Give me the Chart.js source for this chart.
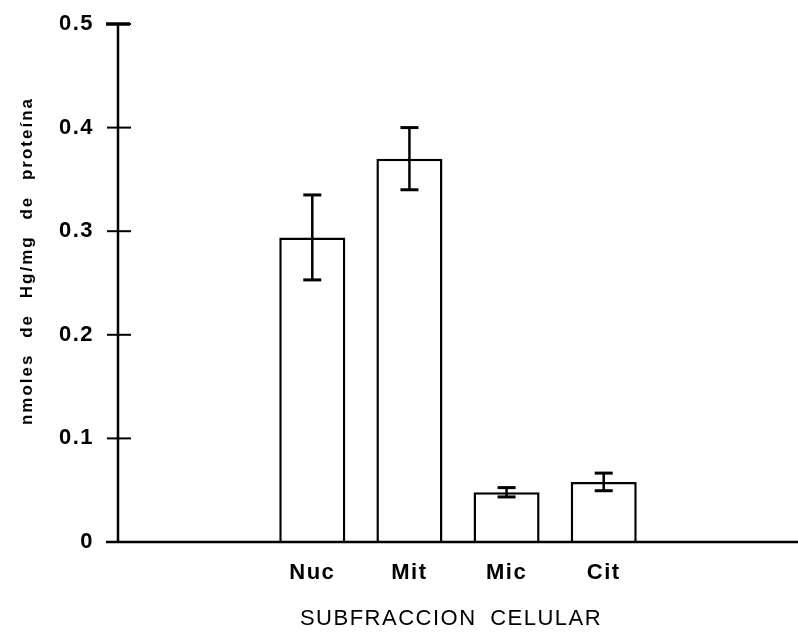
<!DOCTYPE html>
<html>
<head>
<meta charset="utf-8">
<script src="https://cdn.jsdelivr.net/npm/chart.js@4.4.0/dist/chart.umd.min.js"></script>
<style>
    html, body { margin: 0; padding: 0; background: #fff; }
    #wrap { width: 798px; height: 634px; }
</style>
</head>
<body>
<div id="wrap"><canvas id="chart"></canvas></div>
<script>
// Contenido de Hg por subfracción celular (media ± error)
const categorias = ['', '', 'Nuc', 'Mit', 'Mic', 'Cit', '', ''];
const valores = [null, null, 0.294, 0.370, 0.048, 0.058, null, null];
const errores = [null, null, 0.041, 0.030, 0.0045, 0.0085, null, null];
const ticksY = [0, 0.1, 0.2, 0.3, 0.4, 0.5];

const tituloX = 'SUBFRACCION CELULAR';
const tituloY = 'nmoles de Hg/mg de proteína';

Chart.defaults.font.family = "'Liberation Sans', Arial, Helvetica, sans-serif";
Chart.defaults.color = '#000';

function linea(ctx, x1, y1, x2, y2) {
    ctx.beginPath();
    ctx.moveTo(x1, y1);
    ctx.lineTo(x2, y2);
    ctx.stroke();
}

// Ejes con marcas cruzadas, barras de error y títulos
const ejesPlugin = {
    id: 'ejes',
    beforeDraw(chart) {
        // espaciado para las etiquetas de los ejes
        chart.ctx.letterSpacing = '1.5px';
    },
    afterDatasetsDraw(chart) {
        const { ctx, chartArea, scales: { x, y } } = chart;
        const x0 = chartArea.left;
        const y0 = y.getPixelForValue(0);
        ctx.save();
        ctx.strokeStyle = '#000';
        ctx.lineCap = 'butt';

        // eje Y y sus marcas
        ctx.lineWidth = 2.5;
        linea(ctx, x0, y.getPixelForValue(ticksY[ticksY.length - 1]) - 1, x0, y0 + 1);
        ctx.lineWidth = 2;
        ticksY.forEach(v => {
            const py = y.getPixelForValue(v);
            linea(ctx, x0 - 11, py, x0 + 13, py);
        });
        ctx.lineWidth = 3.5;
        const pTop = y.getPixelForValue(ticksY[ticksY.length - 1]);
        linea(ctx, x0 - 12, pTop, x0 + 12, pTop);

        // eje X
        ctx.lineWidth = 2.5;
        linea(ctx, x0 - 12, y0, chartArea.right, y0);

        // barras de error
        const meta = chart.getDatasetMeta(0);
        meta.data.forEach((bar, i) => {
            if (valores[i] == null) return;
            const px = bar.x;
            const yHi = y.getPixelForValue(valores[i] + errores[i]);
            const yLo = y.getPixelForValue(valores[i] - errores[i]);
            ctx.lineWidth = 2.5;
            linea(ctx, px, yHi, px, yLo);
            ctx.lineWidth = 3;
            linea(ctx, px - 9, yHi, px + 9, yHi);
            linea(ctx, px - 9, yLo, px + 9, yLo);
        });
        ctx.restore();
    },
    afterDraw(chart) {
        const { ctx } = chart;
        ctx.save();
        ctx.fillStyle = '#000';
        ctx.textAlign = 'center';
        ctx.textBaseline = 'middle';

        // título del eje X
        ctx.font = "22px 'Liberation Sans', Arial, sans-serif";
        ctx.letterSpacing = '1.5px';
        ctx.wordSpacing = '6px';
        ctx.fillText(tituloX, 451, 619);

        // título del eje Y (girado)
        ctx.translate(27, 261);
        ctx.rotate(-Math.PI / 2);
        ctx.font = "bold 17px 'Liberation Sans', Arial, sans-serif";
        ctx.letterSpacing = '2px';
        ctx.wordSpacing = '9px';
        ctx.fillText(tituloY, 0, 0);
        ctx.restore();
    }
};

new Chart(document.getElementById('chart'), {
    type: 'bar',
    data: {
        labels: categorias,
        datasets: [{
            data: valores,
            backgroundColor: '#fff',
            borderColor: '#000',
            borderWidth: 2.5,
            borderSkipped: 'bottom',
            categoryPercentage: 1,
            barPercentage: 0.68
        }]
    },
    options: {
        responsive: true,
        maintainAspectRatio: false,
        animation: false,
        layout: { padding: { top: 24, left: 0, right: 0, bottom: 0 } },
        plugins: {
            legend: { display: false },
            tooltip: { enabled: false }
        },
        scales: {
            x: {
                offset: false,
                grid: { display: false },
                border: { display: false },
                ticks: {
                    padding: 10,
                    autoSkip: false,
                    maxRotation: 0,
                    font: { size: 22, weight: 'bold' }
                },
                afterFit(scale) {
                    scale.height = 92;
                    scale.paddingLeft = 0;
                    scale.paddingRight = 0;
                }
            },
            y: {
                min: 0,
                max: 0.5,
                grid: { display: false },
                border: { display: false },
                afterBuildTicks(scale) {
                    scale.ticks = ticksY.map(v => ({ value: v }));
                },
                ticks: {
                    padding: 16,
                    font: { size: 22, weight: 'bold' },
                    callback: v => String(v)
                },
                afterFit(scale) {
                    scale.width = 118;
                    scale.paddingTop = 0;
                    scale.paddingBottom = 0;
                }
            }
        }
    },
    plugins: [ejesPlugin]
});
</script>
</body>
</html>
